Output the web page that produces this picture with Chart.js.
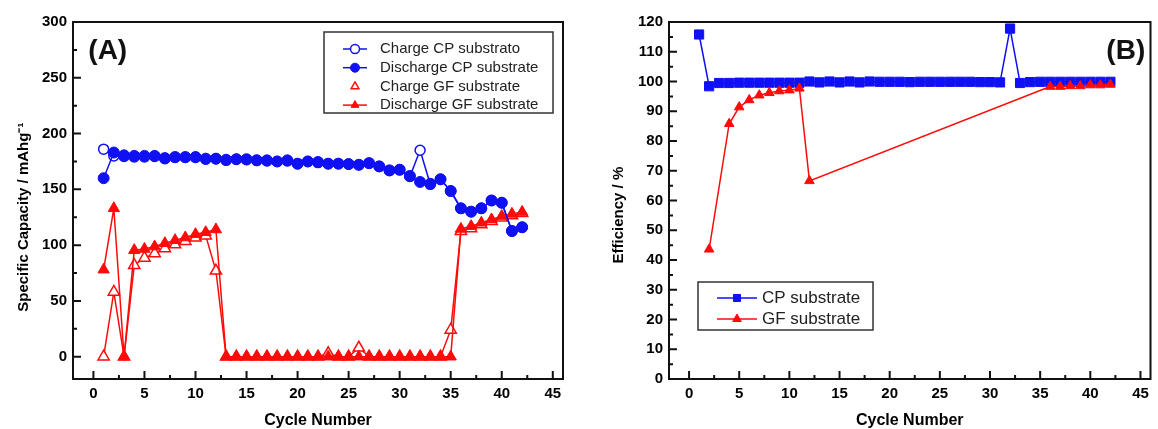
<!DOCTYPE html>
<html>
<head>
<meta charset="utf-8">
<script src="https://cdn.jsdelivr.net/npm/chart.js@4.4.1/dist/chart.umd.min.js"></script>
<style>
  html, body { margin: 0; padding: 0; background: #fff; }
  .panel { position: absolute; top: 0; width: 579px; height: 429px; }
  #panelA { left: 0; }
  #panelB { left: 579px; }
</style>
</head>
<body>
<div class="panel" id="panelA"><canvas id="capChart"></canvas></div>
<div class="panel" id="panelB"><canvas id="effChart"></canvas></div>
<script>
// cycle numbers (x axis)
var cycles = [1, 2, 3, 4, 5, 6, 7, 8, 9, 10, 11, 12, 13, 14, 15, 16, 17, 18, 19, 20, 21,
  22, 23, 24, 25, 26, 27, 28, 29, 30, 31, 32, 33, 34, 35, 36, 37, 38, 39, 40, 41, 42];

// (A) specific capacity, mAh/g
var chargeCP = [186, 180, 179.5, 179, 179, 179.5, 177.5, 178.5, 178.5, 178.5, 177, 177.5, 176, 177,
  176.5, 176, 175.5, 175, 175.5, 173, 175, 174, 173, 173, 172.5, 172, 173.5, 170.5, 167, 167.5,
  161.5, 185, 154.5, 159, 148.5, 133, 130, 133, 140, 138, 112.5, 116];
var dischargeCP = [160, 183, 180.5, 180, 180, 180, 178, 179, 179, 179, 177.5, 177.5, 176.5, 177,
  177, 176, 176, 175, 176, 173, 175, 174.5, 173, 173, 172.7, 172, 173.5, 170.6, 167, 167.6,
  162, 156.6, 155, 159, 148.5, 133, 130, 133, 140, 138, 112.7, 116];
var chargeGF = [0, 58, 0, 82, 88.5, 92.5, 97, 100.5, 103.5, 106.5, 108.5, 77, 0, 0, 0, 0, 0, 0,
  0, 0, 0, 0, 3, 0, 0, 8, 0, 0, 0, 0, 0, 0, 0, 0, 24, 112.5, 115, 118.5, 121.5, 124.5, 126.5, 128.5];
var dischargeGF = [78, 133, 0, 95.5, 96.5, 98.7, 101.7, 104.4, 106.8, 109.8, 111.5, 114, 0, 0, 0,
  0, 0, 0, 0, 0, 0, 0, 0, 0, 0, 0, 0, 0, 0, 0, 0, 0, 0, 0, 0, 114.5, 117, 120, 123, 126, 128, 129.7];

// (B) coulombic efficiency, %
var effCP = [115.8, 98.4, 99.5, 99.5, 99.6, 99.6, 99.6, 99.6, 99.6, 99.6, 99.6, 100, 99.7, 100,
  99.7, 100, 99.7, 100, 99.9, 99.9, 99.9, 99.8, 99.9, 99.9, 99.9, 99.9, 99.9, 99.9, 99.8, 99.8,
  99.7, 117.8, 99.5, 99.8, 99.9, 99.9, 99.9, 99.9, 99.9, 99.9, 99.9, 99.9];
var effGF = [null, 43.6, null, 85.8, 91.4, 93.8, 95.4, 96.2, 96.8, 97.1, 97.7, 66.6, null, null,
  null, null, null, null, null, null, null, null, null, null, null, null, null, null, null, null,
  null, null, null, null, null, 98.3, 98.3, 98.5, 98.5, 98.8, 98.8, 99];

// tick labels
var cycleTicks = [0, 5, 10, 15, 20, 25, 30, 35, 40, 45];
var capTicks = [0, 50, 100, 150, 200, 250, 300];
var effTicks = [0, 10, 20, 30, 40, 50, 60, 70, 80, 90, 100, 110, 120];

var blue = '#1010f5';
var red = '#ff0a0a';

Chart.defaults.font.family = "'Liberation Sans', Arial, sans-serif";
Chart.defaults.color = '#000';

function pts(vals) {
  return vals.map(function(v, i) { return {x: cycles[i], y: v}; });
}

// box around the plot + inward tick marks
var framePlugin = {
  id: 'frame',
  beforeDatasetsDraw(chart, args, opts) {
    var ctx = chart.ctx, a = chart.chartArea;
    var xs = chart.scales.x, ys = chart.scales.y;
    ctx.save();
    ctx.strokeStyle = '#111';
    ctx.lineWidth = 2;
    ctx.strokeRect(a.left, a.top, a.right - a.left, a.bottom - a.top);
    ctx.beginPath();
    xs.ticks.forEach(function(t) {
      var px = xs.getPixelForValue(t.value);
      ctx.moveTo(px, a.bottom); ctx.lineTo(px, a.bottom - 8);
      var m = t.value + opts.xMinor;
      if (m < xs.max) {
        px = xs.getPixelForValue(m);
        ctx.moveTo(px, a.bottom); ctx.lineTo(px, a.bottom - 4);
      }
    });
    ys.ticks.forEach(function(t) {
      var py = ys.getPixelForValue(t.value);
      ctx.moveTo(a.left, py); ctx.lineTo(a.left + 8, py);
      var m = t.value + opts.yMinor;
      if (m < ys.max) {
        py = ys.getPixelForValue(m);
        ctx.moveTo(a.left, py); ctx.lineTo(a.left + 4, py);
      }
    });
    ctx.stroke();
    ctx.restore();
  }
};

// legend in a box inside the plot
var boxLegendPlugin = {
  id: 'boxLegend',
  afterDatasetsDraw(chart, args, opts) {
    var ctx = chart.ctx;
    ctx.save();
    ctx.fillStyle = '#fff';
    ctx.fillRect(opts.left, opts.top, opts.width, opts.height);
    ctx.lineWidth = 1.5;
    ctx.strokeStyle = '#333';
    ctx.strokeRect(opts.left, opts.top, opts.width, opts.height);
    ctx.font = opts.font;
    ctx.textBaseline = 'middle';
    opts.order.forEach(function(di, row) {
      var ds = chart.data.datasets[di];
      var y = opts.top + opts.rowTop + row * opts.rowGap;
      if (ds.legendLine !== false) {
        ctx.strokeStyle = ds.borderColor;
        ctx.lineWidth = ds.borderWidth;
        ctx.beginPath();
        ctx.moveTo(opts.lineFrom, y);
        ctx.lineTo(opts.lineTo, y);
        ctx.stroke();
      }
      ctx.fillStyle = ds.pointBackgroundColor;
      ctx.strokeStyle = ds.pointBorderColor;
      ctx.lineWidth = ds.pointBorderWidth;
      Chart.helpers.drawPoint(ctx, {
        pointStyle: ds.pointStyle, radius: opts.markerRadius, rotation: 0,
        borderWidth: ds.pointBorderWidth
      }, (opts.lineFrom + opts.lineTo) / 2, y);
      ctx.fillStyle = '#222';
      ctx.fillText(ds.label, opts.textX, y);
    });
    ctx.restore();
  }
};

// panel tag "(A)" / "(B)"
var tagPlugin = {
  id: 'tag',
  afterDatasetsDraw(chart, args, opts) {
    var ctx = chart.ctx;
    ctx.save();
    ctx.font = "bold 28px 'Liberation Sans', Arial, sans-serif";
    ctx.fillStyle = '#111';
    ctx.textBaseline = 'middle';
    ctx.fillText(opts.text, chart.scales.x.getPixelForValue(opts.x), chart.scales.y.getPixelForValue(opts.y));
    ctx.restore();
  }
};

function xAxis() {
  return {
    type: 'linear', min: -2, max: 46,
    afterBuildTicks: function(s) { s.ticks = cycleTicks.map(function(v) { return {value: v}; }); },
    afterFit: function(s) { s.height = 50; },
    grid: {display: false, drawTicks: false},
    border: {display: false},
    ticks: {padding: 6, color: '#000', font: {size: 15, weight: 'bold'}},
    title: {display: true, text: 'Cycle Number', color: '#000',
      font: {size: 16, weight: 'bold', lineHeight: 1}, padding: 0}
  };
}

// trailing spaces push the rotated title a bit lower, like the original
function yAxis(min, max, tickList, width, text, titleOffset) {
  return {
    type: 'linear', min: min, max: max,
    afterBuildTicks: function(s) { s.ticks = tickList.map(function(v) { return {value: v}; }); },
    afterFit: function(s) { s.width = width; },
    grid: {display: false, drawTicks: false},
    border: {display: false},
    ticks: {padding: 6, color: '#000', font: {size: 15, weight: 'bold'}},
    title: {display: true, text: text, color: '#000',
      font: {size: 15, weight: 'bold', lineHeight: 1}, padding: {top: titleOffset, bottom: 0}}
  };
}

var capChart = new Chart(document.getElementById('capChart'), {
  type: 'line',
  data: {
    datasets: [
      {
        label: 'Charge CP substrato', data: pts(chargeCP), order: 3,
        borderColor: blue, borderWidth: 1.5, pointStyle: 'circle', pointRadius: 5,
        pointBackgroundColor: '#fff', pointBorderColor: blue, pointBorderWidth: 1.5
      },
      {
        label: 'Discharge CP substrate', data: pts(dischargeCP), order: 1,
        borderColor: blue, borderWidth: 1.5, pointStyle: 'circle', pointRadius: 5.5,
        pointBackgroundColor: blue, pointBorderColor: blue, pointBorderWidth: 1
      },
      {
        label: 'Charge GF substrate', data: pts(chargeGF), order: 4, legendLine: false,
        borderColor: red, borderWidth: 1.5, pointStyle: 'triangle', pointRadius: 6.5,
        pointBackgroundColor: '#fff', pointBorderColor: red, pointBorderWidth: 1.5
      },
      {
        label: 'Discharge GF substrate', data: pts(dischargeGF), order: 2,
        borderColor: red, borderWidth: 1.5, pointStyle: 'triangle', pointRadius: 6.5,
        pointBackgroundColor: red, pointBorderColor: red, pointBorderWidth: 1
      }
    ]
  },
  options: {
    responsive: true,
    maintainAspectRatio: false,
    animation: false,
    layout: {padding: {top: 22, right: 16, left: 0, bottom: 0}},
    scales: {
      x: xAxis(),
      y: yAxis(-20, 300, capTicks, 73,
        'Specific Capacity / mAhg\u207B\u00B9' + '\u00A0'.repeat(8), 16)
    },
    plugins: {
      legend: {display: false},
      tooltip: {enabled: false},
      frame: {xMinor: 2.5, yMinor: 25},
      boxLegend: {
        left: 324, top: 32, width: 229, height: 81, rowTop: 17, rowGap: 18.7,
        lineFrom: 343, lineTo: 367, textX: 380, markerRadius: 4.5,
        font: "15px 'Liberation Sans', Arial, sans-serif", order: [0, 1, 2, 3]
      },
      tag: {text: '(A)', x: -0.5, y: 274}
    }
  },
  plugins: [framePlugin, boxLegendPlugin, tagPlugin]
});

var effChart = new Chart(document.getElementById('effChart'), {
  type: 'line',
  data: {
    datasets: [
      {
        label: 'CP substrate', data: pts(effCP), order: 2,
        borderColor: blue, borderWidth: 1.5, pointStyle: 'rect', pointRadius: 6.5,
        pointBackgroundColor: blue, pointBorderColor: blue, pointBorderWidth: 1
      },
      {
        label: 'GF substrate', data: pts(effGF), order: 1, spanGaps: true,
        borderColor: red, borderWidth: 1.5, pointStyle: 'triangle', pointRadius: 5.5,
        pointBackgroundColor: red, pointBorderColor: red, pointBorderWidth: 1
      }
    ]
  },
  options: {
    responsive: true,
    maintainAspectRatio: false,
    animation: false,
    layout: {padding: {top: 22, right: 1, left: 0, bottom: 0}},
    scales: {
      x: xAxis(),
      y: yAxis(0, 120, effTicks, 90, 'Efficiency / %' + '\u00A0'.repeat(7), 32)
    },
    plugins: {
      legend: {display: false},
      tooltip: {enabled: false},
      frame: {xMinor: 2.5, yMinor: 5},
      boxLegend: {
        left: 119, top: 282, width: 175, height: 48, rowTop: 16, rowGap: 21,
        lineFrom: 138, lineTo: 178, textX: 183, markerRadius: 5,
        font: "17px 'Liberation Sans', Arial, sans-serif", order: [0, 1]
      },
      tag: {text: '(B)', x: 41.6, y: 110.3}
    }
  },
  plugins: [framePlugin, boxLegendPlugin, tagPlugin]
});
</script>
</body>
</html>
